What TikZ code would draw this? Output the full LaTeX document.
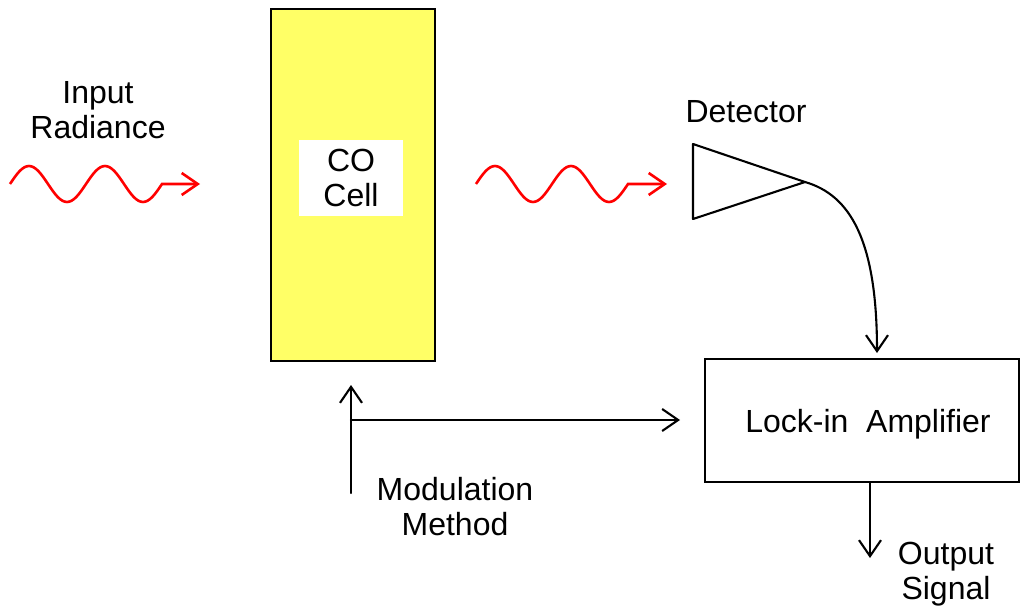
\documentclass[tikz,border=0pt]{standalone}
\usepackage{fontspec}
\setmainfont{Liberation Sans}
\usepackage{tikz}
\usetikzlibrary{arrows.meta}
\usepackage{tkz-euclide}
\definecolor{cellyellow}{RGB}{255,255,102}

\begin{document}
\begin{tikzpicture}[x=1pt, y=-1pt, >={Straight Barb[length=16pt,width=22pt]},
                every node/.style={font=\fontsize{32}{35}\selectfont, align=center},
                wave/.style={red, line width=2.6pt, ->},
                line/.style={black, line width=2.1pt}]
                \useasboundingbox (0,0) rectangle (1021,607);
                \tkzDefPoints{693/144/T1, 693/219/T2, 805/182/T3, 351/493/M1, 351/385/M2, 351/420/M3, 680/420/M4, 877/353/A1, 870/558/O1}
                \node[line, draw, fill=cellyellow, minimum width=164pt, minimum height=352pt] (cell) at (353,185) {};
                \node[fill=white, minimum width=104pt, minimum height=76pt, inner sep=0pt] (colabel) at (351,178) {CO\\Cell};
                \node (inrad) at (98,110) {Input\\Radiance};
                \node (det) at (746,112) {Detector};
                \node[line, draw, minimum width=314pt, minimum height=123pt, text depth=0pt] (amp) at (862,420.5) {\hspace*{12pt}Lock-in\ \ Amplifier};
                \node (modtext) at (455,507) {Modulation\\Method};
                \node (outtext) at (946,574) {Output\\Signal};
                \draw[wave] (10,184) sin (29,166) cos (48,184) sin (67,202) cos (86,184)
                            sin (105,166) cos (124,184) sin (143,202) cos (162,184) -- (200,184);
                \draw[wave] (476,184) sin (495,166) cos (514,184) sin (533,202) cos (552,184)
                            sin (571,166) cos (590,184) sin (609,202) cos (628,184) -- (667,184);
                \tkzDrawPolygon[line](T1,T2,T3)
                \draw[line, ->] (T3) .. controls (850,195) and (877,240) .. (A1);
                \tkzDrawSegments[line, ->](M1,M2 M3,M4)
                \draw[line, ->] (amp.south -| O1) -- (O1);
            \end{tikzpicture}
\end{document}
